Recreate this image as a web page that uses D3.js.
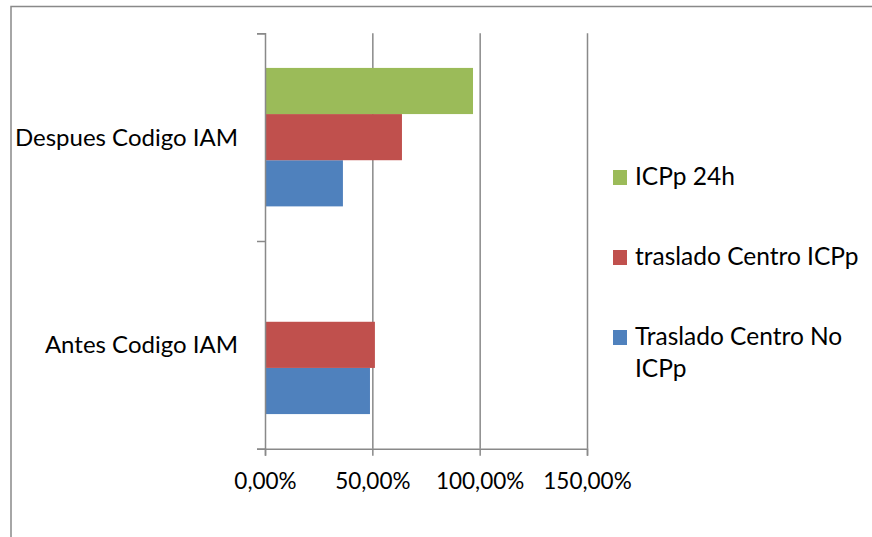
<!DOCTYPE html>
<html>
<head>
<meta charset="utf-8">
<script src="https://cdn.jsdelivr.net/npm/d3@7.9.0/dist/d3.min.js"></script>
<style>
  body { margin: 0; background: #fff; }
  svg { display: block; font-family: Lato, "Open Sans", sans-serif; }
</style>
</head>
<body>
<svg id="chart" width="872" height="537"></svg>
<script>
// data
const categories = ["Antes Codigo IAM", "Despues Codigo IAM"];
const seriesNames = ["Traslado Centro No ICPp", "traslado Centro ICPp", "ICPp 24h"];
const noIcpp = [0.489, 0.363];
const centroIcpp = [0.512, 0.638];
const icpp24h = [0, 0.969];
const xTicks = [0, 0.5, 1, 1.5];

const colors = ["#4F81BD", "#C0504D", "#9BBB59"];
const values = [noIcpp, centroIcpp, icpp24h];

const svg = d3.select('#chart');

// outer chart border
svg.append('rect')
  .attr('x', 11).attr('y', 6.5)
  .attr('width', 900).attr('height', 600)
  .attr('fill', 'none')
  .attr('stroke', '#898989')
  .attr('stroke-width', 1.5);

const plotLeft = 265, plotRight = 587, plotTop = 33.3, plotBottom = 448.7;

let x = d3.scaleLinear().domain([0, 1.5]).range([plotLeft, plotRight]);

// first category sits at the bottom, like Excel does
let y = d3.scaleBand()
  .domain(categories.slice().reverse())
  .range([plotTop, plotBottom])
  .paddingInner(1 / 3)
  .paddingOuter(1 / 6);

// last series at the top of each group
let ySub = d3.scaleBand()
  .domain(seriesNames.slice().reverse())
  .range([0, y.bandwidth()]);

let fmt = d3.formatLocale({ decimal: ",", thousands: ".", grouping: [3], currency: ["", "€"] }).format(".2%");

// gridlines
svg.append('g')
  .attr('transform', `translate(0,${plotBottom})`)
  .call(d3.axisBottom(x).tickValues(xTicks.slice(1)).tickSize(-(plotBottom - plotTop)).tickFormat(''))
  .call(g => g.select('.domain').remove())
  .call(g => g.selectAll('line').attr('stroke', '#898989').attr('stroke-width', 1.5));

// bars
seriesNames.forEach((name, si) => {
  svg.append('g')
    .selectAll('rect')
    .data(categories)
    .join('rect')
    .attr('x', x(0))
    .attr('y', (c) => y(c) + ySub(name))
    .attr('width', (c, i) => x(values[si][i]) - x(0))
    .attr('height', ySub.bandwidth())
    .attr('fill', colors[si]);
});

// x axis
svg.append('g')
  .attr('transform', `translate(0,${plotBottom})`)
  .call(d3.axisBottom(x).tickValues(xTicks).tickSize(7).tickFormat(fmt).tickPadding(17))
  .call(g => g.select('.domain').attr('stroke', '#898989').attr('stroke-width', 1.5))
  .call(g => g.selectAll('line').attr('stroke', '#898989').attr('stroke-width', 1.5))
  .call(g => g.selectAll('text').attr('font-size', 22.5).attr('fill', '#000'))
  .attr('font-family', null).attr('font-size', null);

// y axis, ticks between categories
let yLin = d3.scaleLinear().domain([0, categories.length]).range([plotBottom, plotTop]);
svg.append('g')
  .attr('transform', `translate(${plotLeft},0)`)
  .call(d3.axisLeft(yLin).tickValues(d3.range(categories.length + 1)).tickSize(8).tickFormat(''))
  .call(g => g.select('.domain').attr('stroke', '#898989').attr('stroke-width', 1.5))
  .call(g => g.selectAll('line').attr('stroke', '#898989').attr('stroke-width', 1.5));

// category labels
svg.append('g')
  .selectAll('text')
  .data(categories)
  .join('text')
  .attr('x', 238)
  .attr('y', (c) => y(c) + y.bandwidth() / 2)
  .attr('dy', '0.35em')
  .attr('text-anchor', 'end')
  .attr('font-size', 24)
  .text((c) => c);

// legend
const legendRows = [
  { idx: 2, lines: ["ICPp 24h"], base: 185 },
  { idx: 1, lines: ["traslado Centro ICPp"], base: 265 },
  { idx: 0, lines: ["Traslado Centro No", "ICPp"], base: 345 }
];
let legend = svg.append('g');
legendRows.forEach((r) => {
  legend.append('rect')
    .attr('x', 613).attr('y', r.base - 15)
    .attr('width', 14).attr('height', 15)
    .attr('fill', colors[r.idx]);
  let t = legend.append('text')
    .attr('x', 635).attr('y', r.base)
    .attr('font-size', 24.5);
  r.lines.forEach((ln, k) => {
    t.append('tspan').attr('x', 635).attr('dy', k === 0 ? 0 : 31.7).text(ln);
  });
});
</script>
</body>
</html>
